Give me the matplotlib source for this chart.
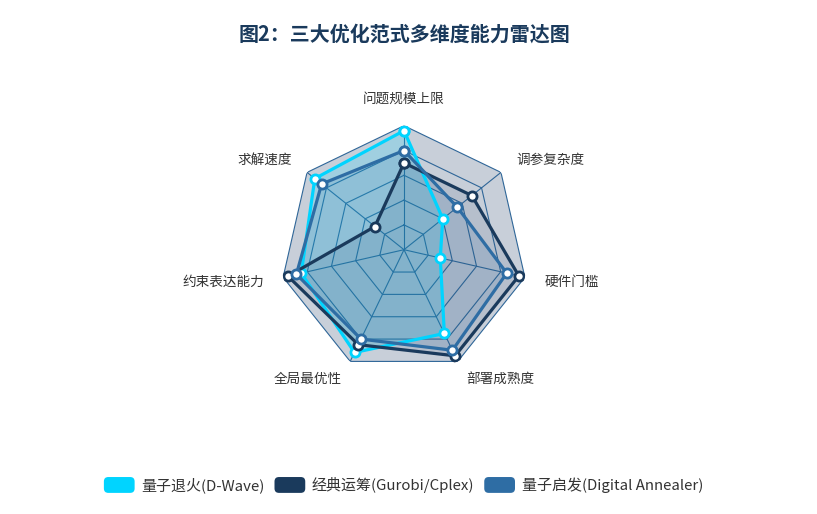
import numpy as np
import matplotlib
matplotlib.use("Agg")
import matplotlib.pyplot as plt
from matplotlib.patches import Patch, FancyBboxPatch
from matplotlib.legend_handler import HandlerPatch

plt.rcParams['font.family'] = ['Noto Sans CJK SC', 'DejaVu Sans']

categories = ['问题规模上限', '调参复杂度', '硬件门槛', '部署成熟度', '全局最优性', '约束表达能力', '求解速度']
series_names = ['量子退火(D-Wave)', '经典运筹(Gurobi/Cplex)', '量子启发(Digital Annealer)']
dwave = [96, 40, 30, 75, 92, 85, 92]
classical = [70, 70, 95, 95, 85, 96, 30]
digital = [80, 55, 85, 90, 80, 89, 85]
max_value = 100
split_number = 5
title = '图2：三大优化范式多维度能力雷达图'

colors = ['#00d4ff', '#1a3a5c', '#2e6da4']
fill_alphas = [0.20, 0.10, 0.15]
grid_color = '#2f6698'
base_color = '#c8cfd9'
label_color = '#333333'

W, H = 817, 514
fig = plt.figure(figsize=(W / 100, H / 100), dpi=100)
fig.patch.set_facecolor('white')

cx, cy, R = 404, 249.7, 124
ax = fig.add_axes([(cx - R) / W, (H - cy - R) / H, 2 * R / W, 2 * R / H], projection='polar')
ax.set_theta_zero_location('N')
ax.set_theta_direction(-1)
ax.set_ylim(0, max_value)
ax.grid(False)
ax.set_xticks([])
ax.set_yticks([])
ax.spines['polar'].set_visible(False)
ax.patch.set_alpha(0)

n = len(categories)
theta = np.linspace(0, 2 * np.pi, n, endpoint=False)
theta_c = np.concatenate([theta, theta[:1]])

# split area background
ax.fill(theta_c, [max_value] * (n + 1), color=base_color, zorder=0, lw=0)
# rings
for lev in np.linspace(max_value / split_number, max_value, split_number):
    ax.plot(theta_c, [lev] * (n + 1), color=grid_color, lw=0.8, zorder=1)
# spokes
for t in theta:
    ax.plot([t, t], [0, max_value], color=grid_color, lw=0.8, zorder=1)

all_series = [dwave, classical, digital]
for i, vals in enumerate(all_series):
    v = np.array(vals + vals[:1], dtype=float)
    ax.fill(theta_c, v, color=colors[i], alpha=fill_alphas[i], lw=0, zorder=2 + i)
for i, vals in enumerate(all_series):
    v = np.array(vals + vals[:1], dtype=float)
    ax.plot(theta_c, v, color=colors[i], lw=2.3, zorder=5 + i,
            marker='o', markersize=6.6, markerfacecolor='white',
            markeredgecolor=colors[i], markeredgewidth=2.0)

# axis names
for t, name in zip(theta, categories):
    s, c = np.sin(t), np.cos(t)
    if abs(s) < 1e-6:
        ha = 'center'
    elif s > 0:
        ha = 'left'
    else:
        ha = 'right'
    va = 'bottom' if c > 0.99 else 'center'
    ax.text(t, 116, name, ha=ha, va=va, fontsize=9.8, color=label_color, clip_on=False)

fig.text(cx / W, 1 - 34 / H, title, ha='center', va='center', fontsize=14.4,
         fontweight='bold', color='#1a3a5c')


class RoundHandler(HandlerPatch):
    def create_artists(self, legend, orig_handle, xdescent, ydescent, width, height, fontsize, trans):
        p = FancyBboxPatch((-xdescent, -ydescent), width, height,
                           boxstyle='round,pad=0,rounding_size=%f' % (height * 0.28),
                           facecolor=orig_handle.get_facecolor(), edgecolor='none', transform=trans)
        return [p]


handles = [Patch(facecolor=c) for c in colors]
leg = fig.legend(handles, series_names, loc='center', bbox_to_anchor=(403.5 / W, 1 - 485 / H),
                 ncol=3, frameon=False, fontsize=10.8, handlelength=2.05, handleheight=1.25,
                 handletextpad=0.45, columnspacing=0.65,
                 handler_map={Patch: RoundHandler()})
for tx in leg.get_texts():
    tx.set_color(label_color)

fig.savefig('out.png', dpi=100)
